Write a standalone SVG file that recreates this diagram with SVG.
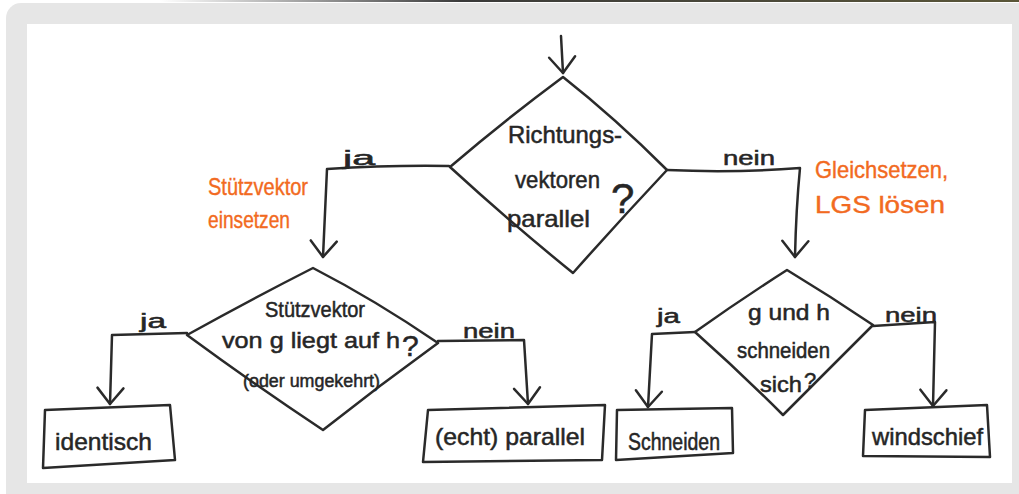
<svg xmlns="http://www.w3.org/2000/svg" width="1019" height="494" viewBox="0 0 1019 494">
<style>
.ln{fill:none;stroke:#2a2a2a;stroke-width:2.5;stroke-linecap:round;stroke-linejoin:round}
.t{font-family:"Liberation Sans","DejaVu Sans",sans-serif;fill:#262626;stroke:#262626;stroke-width:0.5}
.o{font-family:"Liberation Sans","DejaVu Sans",sans-serif;fill:#f26a21;stroke:#f26a21;stroke-width:0.4}
</style>
<defs>
<linearGradient id="topbar" x1="0" y1="0" x2="1" y2="0">
<stop offset="0" stop-color="#ffffff"/>
<stop offset="0.35" stop-color="#3a3a3a"/>
<stop offset="1" stop-color="#5a5638"/>
</linearGradient>
<marker id="v" viewBox="-20 -16 24 32" refX="0" refY="0" markerWidth="24" markerHeight="32" markerUnits="userSpaceOnUse" orient="auto">
<path d="M-16,-13 L0,0 L-16,13" fill="none" stroke="#2a2a2a" stroke-width="2.5" stroke-linecap="round" stroke-linejoin="round"/>
</marker>
</defs>
<rect x="0" y="0" width="1019" height="494" fill="#ffffff"/>
<rect x="160" y="0" width="859" height="2" fill="url(#topbar)"/>
<rect x="6" y="3" width="1060" height="540" rx="15" fill="#e6e6e6"/>
<rect x="27" y="24" width="985" height="459" fill="#ffffff"/>

<g id="connectors">
<path class="ln" d="M561,36 Q562,55 563,73" marker-end="url(#v)"/>
<path class="ln" d="M449,166 Q390,165 327,169 Q325,215 323,257" marker-end="url(#v)"/>
<path class="ln" d="M667,170 Q735,173 800,168 Q796,210 795,257" marker-end="url(#v)"/>
<path class="ln" d="M187,333 L112,335 L110,404" marker-end="url(#v)"/>
<path class="ln" d="M438,341 L524,340 L528,404" marker-end="url(#v)"/>
<path class="ln" d="M695,332 L652,334 L648,407" marker-end="url(#v)"/>
<path class="ln" d="M873,326 L935,322 L933,406" marker-end="url(#v)"/>
<text class="t" x="343" y="165" font-size="20" textLength="32" lengthAdjust="spacingAndGlyphs">ja</text>
<text class="t" x="723" y="165" font-size="20" textLength="52" lengthAdjust="spacingAndGlyphs">nein</text>
<text class="t" x="140" y="328" font-size="20" textLength="26" lengthAdjust="spacingAndGlyphs">ja</text>
<text class="t" x="463" y="338" font-size="20" textLength="52" lengthAdjust="spacingAndGlyphs">nein</text>
<text class="t" x="657" y="323" font-size="20" textLength="23" lengthAdjust="spacingAndGlyphs">ja</text>
<text class="t" x="885" y="322" font-size="20" textLength="52" lengthAdjust="spacingAndGlyphs">nein</text>
</g>

<g id="annotations">
<text class="o" x="208" y="195" font-size="24" textLength="100" lengthAdjust="spacingAndGlyphs">Stützvektor</text>
<text class="o" x="208" y="228" font-size="24" textLength="82" lengthAdjust="spacingAndGlyphs">einsetzen</text>
<text class="o" x="815" y="178" font-size="24" textLength="133" lengthAdjust="spacingAndGlyphs">Gleichsetzen,</text>
<text class="o" x="815" y="213" font-size="24" textLength="130" lengthAdjust="spacingAndGlyphs">LGS lösen</text>
</g>

<g id="d1">
<path class="ln" d="M563,77 Q615,118 667,170 Q620,220 573,273 Q510,222 450,167 Q505,120 563,77 Z"/>
<text class="t" x="508" y="143" font-size="24" textLength="114" lengthAdjust="spacingAndGlyphs">Richtungs-</text>
<text class="t" x="515" y="188" font-size="24" textLength="85" lengthAdjust="spacingAndGlyphs">vektoren</text>
<text class="t" x="507" y="227" font-size="24" textLength="83" lengthAdjust="spacingAndGlyphs">parallel</text>
<text class="t" x="611" y="213" font-size="42">?</text>
</g>

<g id="d2">
<path class="ln" d="M313,268 Q375,300 438,343 Q380,385 323,430 Q255,385 187,335 Q250,300 313,268 Z"/>
<text class="t" x="265" y="317" font-size="22" textLength="100" lengthAdjust="spacingAndGlyphs">Stützvektor</text>
<text class="t" x="222" y="348" font-size="22" textLength="178" lengthAdjust="spacingAndGlyphs">von g liegt auf h</text>
<text class="t" x="402" y="356" font-size="30">?</text>
<text class="t" x="243" y="387" font-size="18" textLength="137" lengthAdjust="spacingAndGlyphs">(oder umgekehrt)</text>
</g>

<g id="d3">
<path class="ln" d="M787,270 Q830,296 873,325 Q828,370 783,415 Q740,372 695,332 Q740,300 787,270 Z"/>
<text class="t" x="748" y="320" font-size="22" textLength="82" lengthAdjust="spacingAndGlyphs">g und h</text>
<text class="t" x="737" y="358" font-size="22" textLength="93" lengthAdjust="spacingAndGlyphs">schneiden</text>
<text class="t" x="760" y="392" font-size="22" textLength="42" lengthAdjust="spacingAndGlyphs">sich</text>
<text class="t" x="804" y="388" font-size="22">?</text>
</g>

<g id="b-identisch">
<polygon class="ln" points="45,410 170,405 175,460 43,468"/>
<text class="t" x="55" y="450" font-size="24" textLength="97" lengthAdjust="spacingAndGlyphs">identisch</text>
</g>

<g id="b-parallel">
<polygon class="ln" points="428,410 605,405 602,460 423,462"/>
<text class="t" x="435" y="445" font-size="24" textLength="150" lengthAdjust="spacingAndGlyphs">(echt) parallel</text>
</g>

<g id="b-schneiden">
<polygon class="ln" points="617,410 732,408 733,453 616,460"/>
<text class="t" x="628" y="450" font-size="23" textLength="92" lengthAdjust="spacingAndGlyphs">Schneiden</text>
</g>

<g id="b-windschief">
<polygon class="ln" points="865,410 987,405 990,457 863,456"/>
<text class="t" x="872" y="445" font-size="24" textLength="111" lengthAdjust="spacingAndGlyphs">windschief</text>
</g>
</svg>
